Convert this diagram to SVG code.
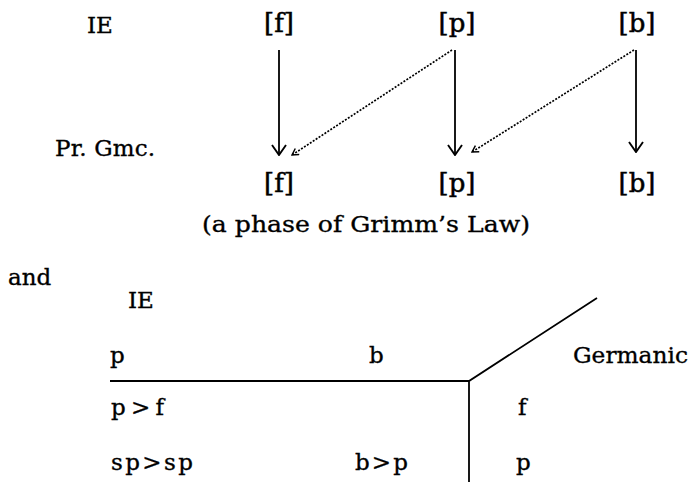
<svg xmlns="http://www.w3.org/2000/svg" width="693" height="482" viewBox="0 0 693 482">
<style>
.t{font-family:"DejaVu Serif","Liberation Serif",serif;font-size:23px;fill:#000;stroke:#000;stroke-width:0.35}
.m{font-family:"DejaVu Serif","Liberation Serif",serif;font-size:26px;fill:#000;stroke:#000;stroke-width:0.5}
.ar{stroke:#000;stroke-width:1.8;fill:none}
.dt{stroke:#000;stroke-width:1.7;fill:none;stroke-dasharray:2 1.5}
.ln{stroke:#000;stroke-width:1.8;fill:none}
</style>
<defs>
<marker id="ah" viewBox="0 0 12 16" refX="11" refY="8" markerWidth="12" markerHeight="16" markerUnits="userSpaceOnUse" orient="auto">
<path d="M1,1 L11,8 L1,15" fill="none" stroke="#000" stroke-width="1.9"/>
</marker>
<marker id="ahs" viewBox="0 0 10 10" refX="9" refY="5" markerWidth="9" markerHeight="9" markerUnits="userSpaceOnUse" orient="auto">
<path d="M2,1 L9,5 L2,9" fill="none" stroke="#000" stroke-width="1.6"/>
</marker>
</defs>
<g id="row-labels">
<text class="t" x="87" y="33">IE</text>
<text class="t" x="55" y="156" textLength="100" lengthAdjust="spacing">Pr. Gmc.</text>
</g>
<g id="ie-f"><text class="m" x="279" y="32" text-anchor="middle">[f]</text></g>
<g id="ie-p"><text class="m" x="457" y="32" text-anchor="middle">[p]</text></g>
<g id="ie-b"><text class="m" x="637" y="32" text-anchor="middle">[b]</text></g>
<g id="gmc-f"><text class="m" x="279" y="192" text-anchor="middle">[f]</text></g>
<g id="gmc-p"><text class="m" x="457" y="192" text-anchor="middle">[p]</text></g>
<g id="gmc-b"><text class="m" x="637" y="192" text-anchor="middle">[b]</text></g>
<g id="connectors">
<line class="ar" x1="279" y1="50" x2="279" y2="155" marker-end="url(#ah)"/>
<line class="ar" x1="455" y1="50" x2="455" y2="155" marker-end="url(#ah)"/>
<line class="ar" x1="636" y1="50" x2="636" y2="152" marker-end="url(#ah)"/>
<line class="dt" x1="452" y1="50" x2="292" y2="155" marker-end="url(#ahs)"/>
<line class="dt" x1="634" y1="50" x2="472" y2="152" marker-end="url(#ahs)"/>
</g>
<g id="caption"><text class="t" x="202" y="232" textLength="328" lengthAdjust="spacingAndGlyphs">(a phase of Grimm’s Law)</text></g>
<g id="and"><text class="t" x="8" y="285">and</text></g>
<g id="table">
<text class="t" x="128" y="308">IE</text>
<text class="t" x="110" y="363">p</text>
<text class="t" x="369" y="363">b</text>
<text class="t" x="573" y="363" textLength="115" lengthAdjust="spacingAndGlyphs">Germanic</text>
<path class="ln" d="M110,381 H469 L597,298 M469,381 V482"/>
<text class="t" x="111" y="415" textLength="53" lengthAdjust="spacing">p&gt;f</text>
<text class="t" x="518" y="415">f</text>
<text class="t" x="111" y="470" textLength="82" lengthAdjust="spacing">sp&gt;sp</text>
<text class="t" x="355" y="470" textLength="53" lengthAdjust="spacing">b&gt;p</text>
<text class="t" x="516" y="470">p</text>
</g>
</svg>
